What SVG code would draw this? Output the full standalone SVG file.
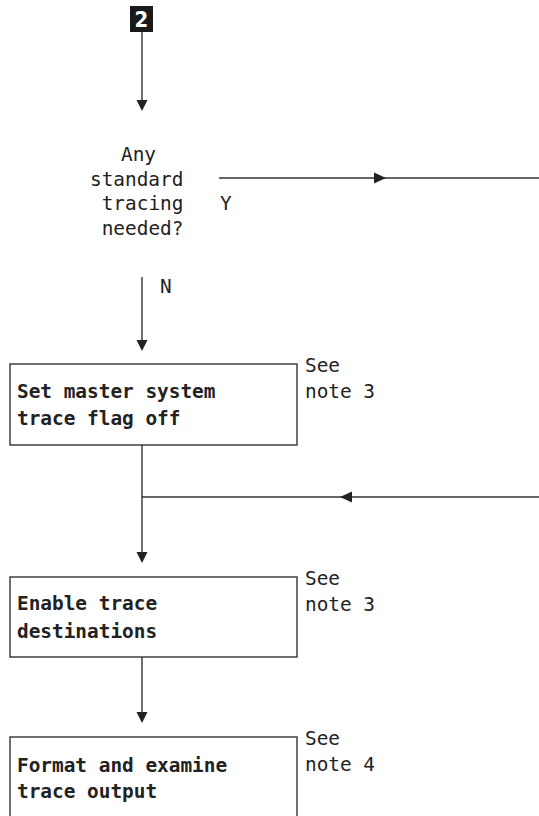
<svg xmlns="http://www.w3.org/2000/svg" width="539" height="816" viewBox="0 0 539 816">
<style>
text{font-family:"DejaVu Sans Mono","Liberation Mono",monospace;font-size:19.4px;fill:#222}
.b{font-weight:bold}
.box{fill:#fff;stroke:#333;stroke-width:1.4}
.ln{stroke:#333;stroke-width:1.4;fill:none}
.ah{fill:#222}
</style>
<rect width="539" height="816" fill="#fff"/>
<g id="start">
<rect x="130" y="6" width="23" height="26" fill="#1a1a1a"/>
<text x="141.5" y="27" text-anchor="middle" class="b" style="fill:#fff;font-family:'DejaVu Sans Condensed','Liberation Sans',sans-serif;font-size:22px">2</text>
</g>
<g id="connectors">
<line class="ln" x1="142" y1="32" x2="142" y2="102"/>
<polygon class="ah" points="136.5,100 147.5,100 142,111"/>
<line class="ln" x1="219" y1="178" x2="539" y2="178"/>
<polygon class="ah" points="374,172.5 374,183.5 386,178"/>
<text x="220" y="210">Y</text>
<line class="ln" x1="142" y1="277" x2="142" y2="342"/>
<polygon class="ah" points="136.5,340 147.5,340 142,351"/>
<text x="160" y="293">N</text>
<line class="ln" x1="142" y1="445" x2="142" y2="554"/>
<line class="ln" x1="142" y1="497" x2="539" y2="497"/>
<polygon class="ah" points="352,491.5 352,502.5 340,497"/>
<polygon class="ah" points="136.5,552 147.5,552 142,563"/>
<line class="ln" x1="142" y1="657" x2="142" y2="714"/>
<polygon class="ah" points="136.5,712 147.5,712 142,723"/>
</g>
<g id="decision">
<text x="121" y="161">Any</text>
<text x="90" y="186">standard</text>
<text x="101.7" y="210">tracing</text>
<text x="101.7" y="235">needed?</text>
</g>
<g id="box1">
<rect class="box" x="10" y="364" width="287" height="81"/>
<text class="b" x="17" y="398">Set master system</text>
<text class="b" x="17" y="425">trace flag off</text>
<text x="305" y="372">See</text>
<text x="305" y="398">note 3</text>
</g>
<g id="box2">
<rect class="box" x="10" y="577" width="287" height="80"/>
<text class="b" x="17" y="610">Enable trace</text>
<text class="b" x="17" y="638">destinations</text>
<text x="305" y="585">See</text>
<text x="305" y="611">note 3</text>
</g>
<g id="box3">
<rect class="box" x="10" y="737" width="287" height="100"/>
<text class="b" x="17" y="772">Format and examine</text>
<text class="b" x="17" y="798">trace output</text>
<text x="305" y="745">See</text>
<text x="305" y="771">note 4</text>
</g>
</svg>
